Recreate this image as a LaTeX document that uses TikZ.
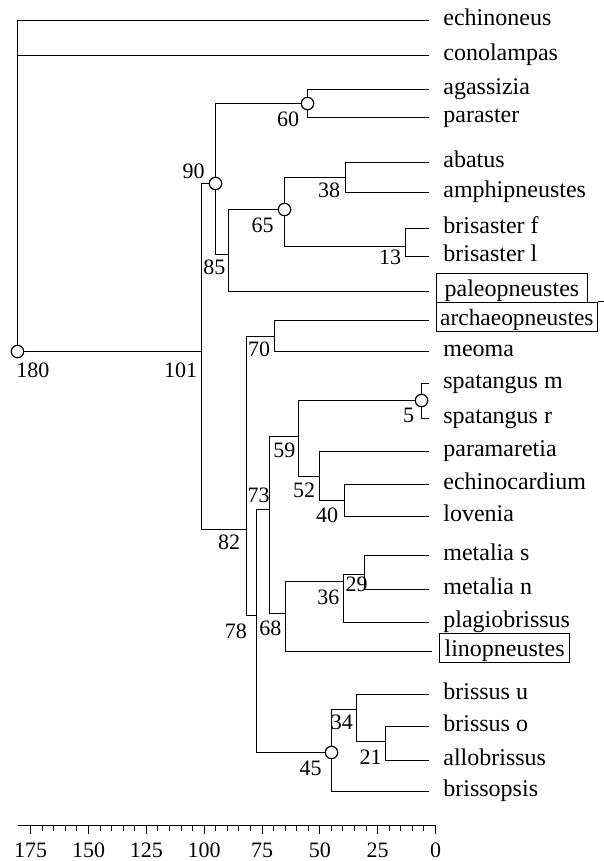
\documentclass[tikz,border=0pt]{standalone}
\usepackage{fontspec}
\setmainfont{Liberation Serif}
\usetikzlibrary{positioning}

\begin{document}
\begin{tikzpicture}[
    x=0.5pt, y=-0.5pt,
    branch/.style={line width=0.6pt},
    tip/.style={branch, shorten >=3.5pt},
    taxon/.style={anchor=mid west, inner xsep=3.5pt, inner ysep=2pt,
                  font=\fontsize{12}{14}\selectfont},
    boxed/.style={taxon, draw, line width=0.6pt, inner ysep=1.8pt,
                  text height=9.5pt, text depth=1.6pt},
    fork/.style={circle, draw, fill=white, line width=0.6pt,
                 inner sep=0pt, minimum size=6.2pt},
    age/.style={inner sep=0pt, font=\fontsize{11}{13}\selectfont},
]
\useasboundingbox (0,0) rectangle (604,861);

% taxa
\node[taxon] (echinoneus) at (436,20.5) {echinoneus};
\node[taxon] (conolampas) at (436,55.5) {conolampas};
\node[taxon] (agassizia) at (436,89.5) {agassizia};
\node[taxon] (paraster) at (436,117.5) {paraster};
\node[taxon] (abatus) at (436,162.5) {abatus};
\node[taxon] (amphipneustes) at (436,192.5) {amphipneustes};
\node[taxon] (brisasterf) at (436,228.5) {brisaster f};
\node[taxon] (brisasterl) at (436,256.5) {brisaster l};
\node[boxed, inner xsep=4pt] (paleopneustes) at (436,291.5) {paleopneustes};
\node[boxed, inner xsep=1.8pt, font=\fontsize{11.7}{14}\selectfont]
    (archaeopneustes) at (436,320.5) {archaeopneustes};
\node[taxon] (meoma) at (436,351.5) {meoma};
\node[taxon] (spatangusm) at (436,383.5) {spatangus m};
\node[taxon] (spatangusr) at (436,418.5) {spatangus r};
\node[taxon] (paramaretia) at (436,451.5) {paramaretia};
\node[taxon] (echinocardium) at (436,484.5) {echinocardium};
\node[taxon] (lovenia) at (436,516.5) {lovenia};
\node[taxon] (metalias) at (436,555.5) {metalia s};
\node[taxon] (metalian) at (436,589.5) {metalia n};
\node[taxon] (plagiobrissus) at (436,622.5) {plagiobrissus};
\node[boxed, inner xsep=2.5pt] (linopneustes) at (439,651.5) {linopneustes};
\node[taxon] (brissusu) at (436,694.5) {brissus u};
\node[taxon] (brissuso) at (436,726.5) {brissus o};
\node[taxon] (allobrissus) at (436,760.5) {allobrissus};
\node[taxon] (brissopsis) at (436,791.5) {brissopsis};

% frame edge running out to the border
\coordinate (rim) at (604,0);
\draw[line width=0.6pt] (archaeopneustes.north east) -- (archaeopneustes.north east -| rim);

% internal nodes
\node[fork] (root) at (17.5,351.5) {};
\coordinate (n101) at (201.5,351.5);
\node[fork] (n90) at (215.5,183.5) {};
\node[fork] (n60) at (307.5,103.5) {};
\coordinate (n85) at (228.5,254.5);
\node[fork] (n65) at (284.5,209.5) {};
\coordinate (n38) at (345.5,177.5);
\coordinate (n13) at (405.5,246.5);
\coordinate (n82) at (246.5,529.5);
\coordinate (n70) at (274.5,336.5);
\coordinate (n78) at (256.5,615.5);
\coordinate (n73) at (269.5,509.5);
\coordinate (n59) at (298.5,436.5);
\node[fork] (n5) at (421.5,400.5) {};
\coordinate (n52) at (319.5,476.5);
\coordinate (n40) at (344.5,500.5);
\coordinate (n68) at (285.5,613.5);
\coordinate (n36) at (343.5,581.5);
\coordinate (n29) at (364.5,574.5);
\node[fork] (n45) at (331.5,752.5) {};
\coordinate (n34) at (356.5,709.5);
\coordinate (n21) at (385.5,741.5);

% branches
\draw[tip] (root) |- (echinoneus.mid west);
\draw[tip] (root) |- (conolampas.mid west);
\draw[branch] (root) -- (n101);
\draw[branch] (n101) |- (n90);
\draw[branch] (n101) |- (n82);
\draw[branch] (n90) |- (n60);
\draw[branch] (n90) |- (n85);
\draw[tip] (n60) |- (agassizia.mid west);
\draw[tip] (n60) |- (paraster.mid west);
\draw[branch] (n85) |- (n65);
\draw[tip] (n85) |- (paleopneustes.mid west);
\draw[branch] (n65) |- (n38);
\draw[branch] (n65) |- (n13);
\draw[tip] (n38) |- (abatus.mid west);
\draw[tip] (n38) |- (amphipneustes.mid west);
\draw[tip] (n13) |- (brisasterf.mid west);
\draw[tip] (n13) |- (brisasterl.mid west);
\draw[branch] (n82) |- (n70);
\draw[branch] (n82) |- (n78);
\draw[tip] (n70) |- (archaeopneustes.mid west);
\draw[tip] (n70) |- (meoma.mid west);
\draw[branch] (n78) |- (n73);
\draw[branch] (n78) |- (n45);
\draw[branch] (n73) |- (n59);
\draw[branch] (n73) |- (n68);
\draw[branch] (n59) |- (n5);
\draw[branch] (n59) |- (n52);
\draw[tip] (n5) |- (spatangusm.mid west);
\draw[tip] (n5) |- (spatangusr.mid west);
\draw[tip] (n52) |- (paramaretia.mid west);
\draw[branch] (n52) |- (n40);
\draw[tip] (n40) |- (echinocardium.mid west);
\draw[tip] (n40) |- (lovenia.mid west);
\draw[branch] (n68) |- (n36);
\draw[tip] (n68) |- (linopneustes.mid west);
\draw[branch] (n36) |- (n29);
\draw[tip] (n36) |- (plagiobrissus.mid west);
\draw[tip] (n29) |- (metalias.mid west);
\draw[tip] (n29) |- (metalian.mid west);
\draw[branch] (n45) |- (n34);
\draw[tip] (n45) |- (brissopsis.mid west);
\draw[tip] (n34) |- (brissusu.mid west);
\draw[branch] (n34) |- (n21);
\draw[tip] (n21) |- (brissuso.mid west);
\draw[tip] (n21) |- (allobrissus.mid west);

% node ages
\node[age] (a180) at (33,370) {180};
\node[age] (a101) at (180.5,370) {101};
\node[age] (a90) at (193.7,170.8) {90};
\node[age] (a60) at (288,119.5) {60};
\node[age] (a85) at (214.3,267.5) {85};
\node[age] (a65) at (262.5,225) {65};
\node[age] (a38) at (329,190.3) {38};
\node[age] (a13) at (390,257) {13};
\node[age] (a70) at (259,349) {70};
\node[age] (a59) at (284.3,450) {59};
\node[age] (a5) at (408.7,415) {5};
\node[age] (a52) at (304,490) {52};
\node[age] (a40) at (327,515.5) {40};
\node[age] (a73) at (258.5,495.8) {73};
\node[age] (a82) at (229,542.5) {82};
\node[age] (a29) at (356.7,584) {29};
\node[age] (a36) at (328.3,597) {36};
\node[age] (a78) at (235.8,630.8) {78};
\node[age] (a68) at (270.3,628.3) {68};
\node[age] (a34) at (341.8,722.5) {34};
\node[age] (a21) at (370.5,757) {21};
\node[age] (a45) at (310.5,768.8) {45};

% time axis
\draw[branch] (17.5,825.5) -- (435.5,825.5);
\foreach \v in {0,5,...,175}
    \draw[branch] ({round(435-2.313*\v)+0.5},825.5) -- ++(0,5);
\foreach \v in {0,25,...,175} {
    \draw[branch] ({round(435-2.313*\v)+0.5},825.5) -- ++(0,8);
    \node[age] (tick\v) at ({435.5-2.313*\v},850) {\v};
}
\end{tikzpicture}
\end{document}
